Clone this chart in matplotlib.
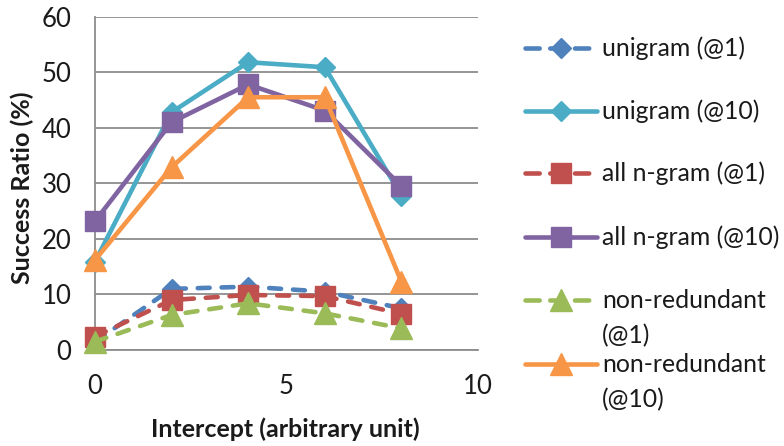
import matplotlib
matplotlib.use("Agg")
import matplotlib.pyplot as plt
from matplotlib.lines import Line2D

plt.rcParams['font.family'] = ['Lato', 'DejaVu Sans']

# Intercept values and success ratios (%)
intercept = [0, 2, 4, 6, 8]
unigram_at1 = [1.5, 11.0, 11.4, 10.5, 7.5]
unigram_at10 = [15.9, 42.8, 51.8, 50.9, 27.8]
all_ngram_at1 = [2.4, 9.0, 9.9, 9.7, 6.5]
all_ngram_at10 = [23.2, 41.0, 47.8, 43.1, 29.5]
nonred_at1 = [1.5, 6.3, 8.4, 6.6, 3.9]
nonred_at10 = [16.2, 32.9, 45.5, 45.5, 12.3]

series_labels = [
    "unigram (@1)", "unigram (@10)", "all n-gram (@1)",
    "all n-gram (@10)", "non-redundant\n(@1)", "non-redundant\n(@10)",
]
x_ticks = [0, 5, 10]
y_ticks = [0, 10, 20, 30, 40, 50, 60]

W, H = 784, 446
fig = plt.figure(figsize=(W / 100, H / 100), dpi=100)
ax = fig.add_axes([95 / W, 1 - 350 / H, (478 - 95) / W, (350 - 16.7) / H])

text_color = "#1a1a1a"
grid_color = "#8c8c8c"
dash = (2.6, 2.6)
styles = [
    dict(color="#4f81bd", marker="D", ms=10.5, dashed=True),
    dict(color="#4bacc6", marker="D", ms=10.5, dashed=False),
    dict(color="#c0504d", marker="s", ms=14, dashed=True),
    dict(color="#8064a2", marker="s", ms=14, dashed=False),
    dict(color="#9bbb59", marker="^", ms=16, dashed=True),
    dict(color="#f79646", marker="^", ms=16, dashed=False),
]
data = [unigram_at1, unigram_at10, all_ngram_at1, all_ngram_at10, nonred_at1, nonred_at10]

for vals, st in zip(data, styles):
    line, = ax.plot(intercept, vals, color=st["color"], lw=3.3,
                    marker=st["marker"], ms=st["ms"], mec=st["color"],
                    mfc=st["color"], solid_capstyle="round",
                    dash_capstyle="round", clip_on=False, zorder=3)
    if st["dashed"]:
        line.set_dashes(dash)

ax.set_xlim(0, 10)
ax.set_ylim(0, 60)
ax.set_xticks(x_ticks)
ax.set_yticks(y_ticks)
ax.tick_params(axis="both", length=0, labelsize=18.5, colors=text_color)
ax.tick_params(axis="y", pad=17)
ax.tick_params(axis="x", pad=17)
ax.yaxis.grid(True, color=grid_color, lw=1.3)
ax.set_axisbelow(True)
for side in ("top", "right"):
    ax.spines[side].set_visible(False)
for side in ("left", "bottom"):
    ax.spines[side].set_color(grid_color)
    ax.spines[side].set_linewidth(1.3)

fig.text(285 / W, 1 - 429 / H, "Intercept (arbitrary unit)", ha="center",
         va="center", fontsize=18, fontweight="bold", color=text_color)
fig.text(22 / W, 1 - 188 / H, "Success Ratio (%)", ha="center", va="center",
         rotation=90, fontsize=18, fontweight="bold", color=text_color)

# Legend drawn on the figure canvas
rows = [48, 111, 173, 237, 300, 364]
line_gap = 35.5
for label, st, y in zip(series_labels, styles, rows):
    fy = 1 - y / H
    if st["dashed"]:
        x0, x1 = 525 / W, 590 / W
    else:
        x0, x1 = 525 / W, 597 / W
    ln = Line2D([x0, x1], [fy, fy], transform=fig.transFigure, color=st["color"],
                lw=3.3, solid_capstyle="round", dash_capstyle="round")
    if st["dashed"]:
        ln.set_dashes((3.1, 2.3))
    fig.add_artist(ln)
    mk = Line2D([561 / W], [fy], transform=fig.transFigure, color=st["color"],
                marker=st["marker"], ms=st["ms"], mec=st["color"], ls="none")
    fig.add_artist(mk)
    for i, part in enumerate(label.split("\n")):
        fig.text(602 / W, 1 - (y + i * line_gap) / H, part, ha="left", va="center",
                 fontsize=17.8, color=text_color)

fig.savefig("out.png", dpi=100)
